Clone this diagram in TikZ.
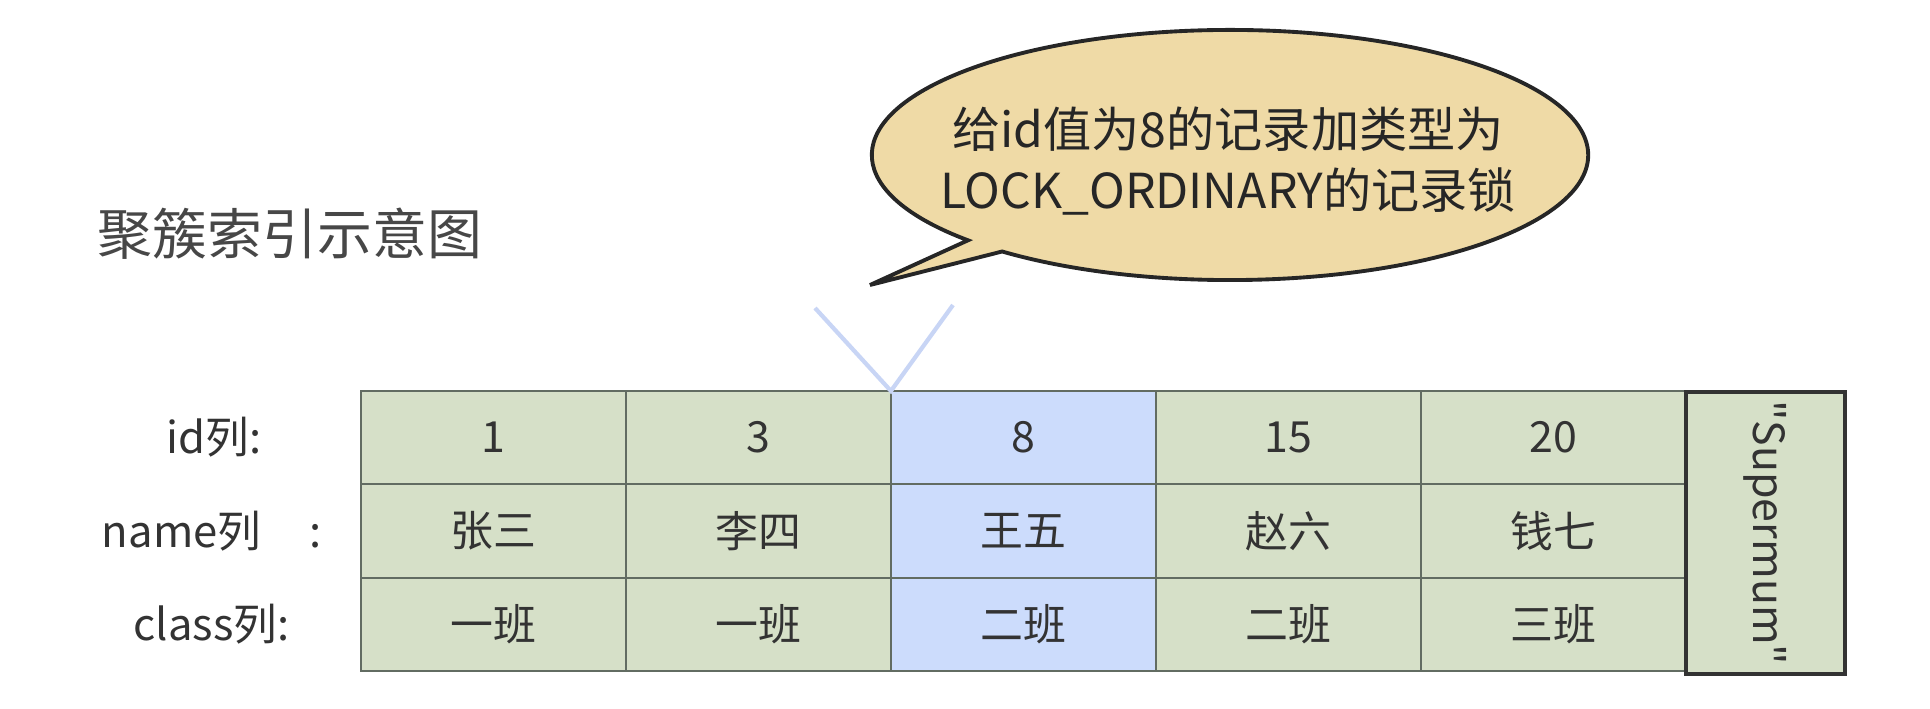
\documentclass[tikz,border=0pt]{standalone}
\usepackage{fontspec}
\setmainfont{Noto Sans CJK SC}[Ligatures=TeXOff]
\usetikzlibrary{calc}
\definecolor{cellgreen}{RGB}{214,224,200}
\definecolor{cellblue}{RGB}{204,220,252}
\definecolor{bubblefill}{RGB}{239,218,166}
\definecolor{gridline}{RGB}{98,108,98}
\definecolor{vblue}{RGB}{200,213,245}
\definecolor{txt}{RGB}{51,51,51}
\begin{document}
\begin{tikzpicture}[x=0.01cm,y=0.01cm,
  cell/.style={draw=gridline, line width=0.6pt, fill=cellgreen, minimum width=2.65cm, minimum height=0.9333cm, inner sep=0pt, outer sep=0pt, text=txt, font=\fontsize{12.2}{14}\selectfont},
  hlcell/.style={cell, fill=cellblue},
  rowlab/.style={anchor=east, inner sep=0pt, text=txt, font=\fontsize{12.4}{14}\selectfont},
]
\useasboundingbox (0,0) rectangle (1930,709);

% title
\node[text=txt!90, font=\fontsize{15.6}{18}\selectfont, inner sep=0pt] (title) at (290,475) {聚簇索引示意图};

% row labels
\node[rowlab] (lid) at (262,272) {id列:};
\node[rowlab] (lname) at (322,178) {name列\hspace{1.1em}:};
\node[rowlab] (lclass) at (290,85) {class列:};

% table cells
\node[cell] (c11) at (493.5,271.33) {1};
\node[cell] (c12) at (758.5,271.33) {3};
\node[hlcell] (c13) at (1023.5,271.33) {8};
\node[cell] (c14) at (1288.5,271.33) {15};
\node[cell] (c15) at (1553.5,271.33) {20};

\node[cell] (c21) at (493.5,178) {张三};
\node[cell] (c22) at (758.5,178) {李四};
\node[hlcell] (c23) at (1023.5,178) {王五};
\node[cell] (c24) at (1288.5,178) {赵六};
\node[cell] (c25) at (1553.5,178) {钱七};

\node[cell] (c31) at (493.5,84.67) {一班};
\node[cell] (c32) at (758.5,84.67) {一班};
\node[hlcell] (c33) at (1023.5,84.67) {二班};
\node[cell] (c34) at (1288.5,84.67) {二班};
\node[cell] (c35) at (1553.5,84.67) {三班};

% supremum column
\node[draw=black!80, line width=1.1pt, fill=cellgreen, rotate=-90, minimum width=2.82cm, minimum height=1.59cm, inner sep=0pt, outer sep=0pt, text=txt, font=\fontsize{12.2}{14}\selectfont] (sup) at (1765.5,176) {"Supermum"};

% V marker
\coordinate (vl) at (815,401);
\coordinate (vr) at (953,404);
\draw[vblue, line width=1.2pt] (vl) -- (c13.north west) -- (vr);

% speech bubble
\coordinate (bc) at (1230,554);
\coordinate (tip) at (870,424);
\draw[draw=black!85, line width=1.1pt, fill=bubblefill, line join=miter]
  (bc) ++(230.5:3.58cm and 1.25cm)
  arc[start angle=230.5, end angle=583, x radius=3.58cm, y radius=1.25cm]
  -- (tip) -- cycle;
\node[align=center, text=black!85, font=\fontsize{13.7}{17.6}\selectfont, inner sep=0pt] (bubble) at (1228,548) {给id值为8的记录加类型为\\LOCK\_ORDINARY的记录锁};
\end{tikzpicture}
\end{document}
